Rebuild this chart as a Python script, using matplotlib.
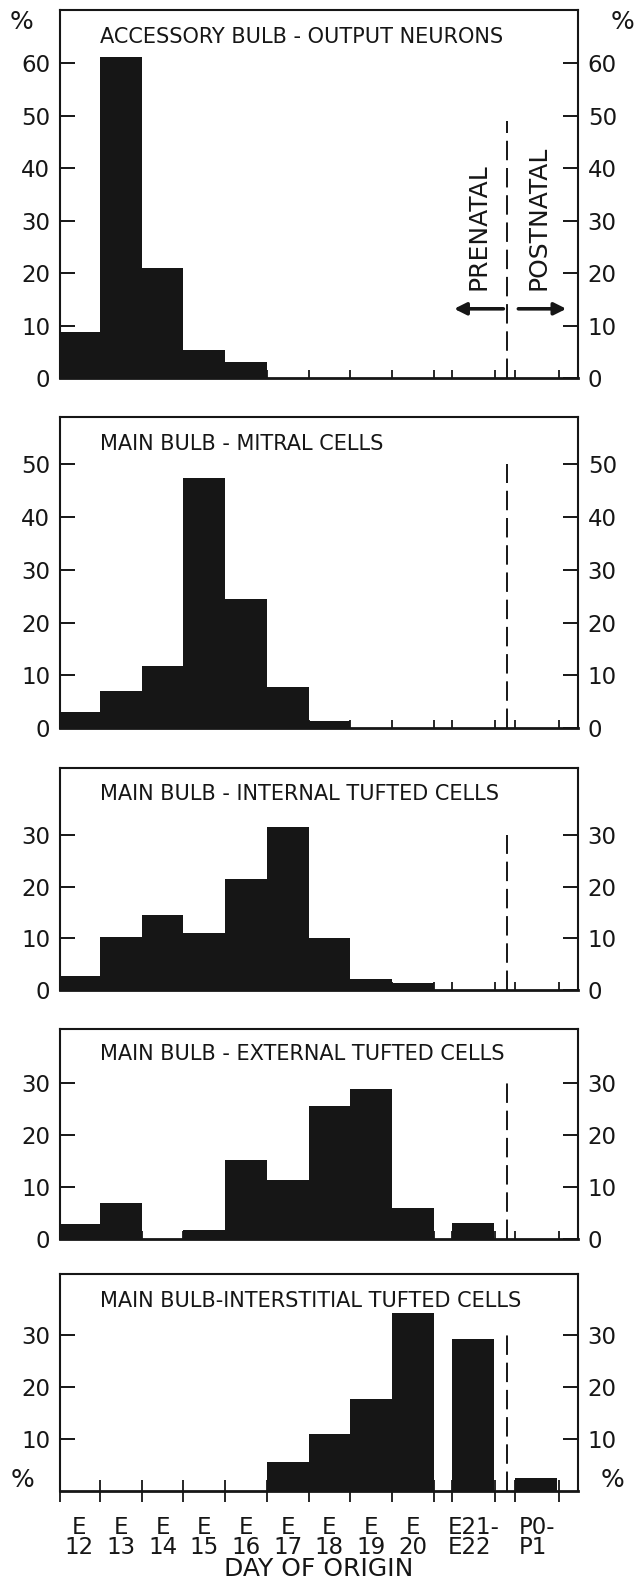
import matplotlib
matplotlib.use("Agg")
import matplotlib.pyplot as plt
import numpy as np

# day-of-origin categories (bins)
day_labels = ["E\n12", "E\n13", "E\n14", "E\n15", "E\n16", "E\n17", "E\n18",
              "E\n19", "E\n20", "E21-\nE22", "P0-\nP1"]

titles = ["ACCESSORY BULB - OUTPUT NEURONS",
          "MAIN BULB - MITRAL CELLS",
          "MAIN BULB - INTERNAL TUFTED CELLS",
          "MAIN BULB - EXTERNAL TUFTED CELLS",
          "MAIN BULB-INTERSTITIAL TUFTED CELLS"]

# percent of labelled cells per day of origin
output_neurons = [8.8, 61.2, 20.9, 5.4, 3.0, 0, 0, 0, 0, 0, 0]
mitral = [3.1, 7.1, 11.7, 47.4, 24.4, 7.8, 1.4, 0, 0, 0, 0]
internal_tufted = [2.7, 10.2, 14.4, 11.1, 21.4, 31.5, 10.0, 2.2, 1.4, 0, 0]
external_tufted = [2.8, 7.0, 0, 1.7, 15.2, 11.3, 25.5, 28.8, 6.0, 3.1, 0]
interstitial_tufted = [0, 0, 0, 0, 0, 5.6, 10.9, 17.6, 34.2, 29.2, 2.5]

series = [output_neurons, mitral, internal_tufted, external_tufted, interstitial_tufted]

# layout
W, H = 635, 1586
fig = plt.figure(figsize=(W / 100, H / 100), dpi=100)
panel_px = [(10, 378), (417, 728), (768, 990), (1029, 1239), (1274, 1491)]
ylims = [70.2, 59, 42.9, 40.4, 41.7]
yticks = [range(0, 61, 10), range(0, 51, 10), range(0, 31, 10), range(0, 31, 10), range(10, 31, 10)]
dash_top = [49, 50, 30, 30, 30]
title_off = [27, 27, 26, 25, 27]

x_left = np.arange(len(day_labels), dtype=float)
x_left[9] = 9.45
x_left[10] = 10.95
edges = [1, 2, 3, 4, 5, 6, 7, 8, 9, 9.45, 10.47, 10.95, 12]
dash_x = 10.75
ink = "#161616"

axes = []
for i, (top, bot) in enumerate(panel_px):
    ax = fig.add_axes([60 / W, 1 - bot / H, 518 / W, (bot - top) / H])
    axes.append(ax)
    ax.bar(x_left, series[i], width=1.0, align="edge", color=ink, edgecolor="none", zorder=2)
    ax.set_xlim(0.04, 12.46)
    ax.set_ylim(0, ylims[i])
    ax.set_axisbelow(True)
    for s in ax.spines.values():
        s.set_linewidth(1.5)
        s.set_color(ink)
    ax.spines["bottom"].set_linewidth(2.0)

    ax.set_yticks(list(yticks[i]))
    ax.tick_params(axis="y", which="major", left=True, right=True, labelleft=True, labelright=True,
                   direction="in", length=11, width=1.4, labelsize=16.5, pad=7, colors=ink)

    ax.plot([dash_x, dash_x], [0, dash_top[i]], color=ink, lw=1.4, dashes=(10, 4), zorder=3)

    ax.annotate(titles[i], xy=(0.077, 1), xycoords="axes fraction",
                xytext=(0, -title_off[i] * 0.72), textcoords="offset points",
                ha="left", va="center", fontsize=15, color=ink)

    if i < 4:
        ax.set_xticks(edges)
        ax.set_xticklabels([])
        ax.tick_params(axis="x", direction="in", length=6, width=1.3, colors=ink)
    else:
        ax.set_xticks([0.04] + edges)
        ax.set_xticklabels([])
        ax.tick_params(axis="x", which="major", direction="inout", length=16, width=1.3, colors=ink)
        centers = list(np.arange(9) + 0.5) + [9.96, 11.47]
        ax.set_xticks(centers, minor=True)
        ax.set_xticklabels(day_labels, minor=True, fontsize=16.5, linespacing=0.85)
        ax.tick_params(axis="x", which="minor", length=0, pad=18, colors=ink)
        for lab in ax.get_xticklabels(minor=True)[9:]:
            lab.set_multialignment("left")

# x axis title placed under the bottom panel
fig.text((60 + 259) / W, 1 - 1569 / H, "DAY OF ORIGIN", ha="center", va="center", fontsize=18, color=ink)

# percent signs
axes[0].text(-0.075, 0.967, "%", transform=axes[0].transAxes, ha="center", va="center", fontsize=18, color=ink)
axes[0].text(1.086, 0.967, "%", transform=axes[0].transAxes, ha="center", va="center", fontsize=18, color=ink)
axes[4].text(-0.073, 0.05, "%", transform=axes[4].transAxes, ha="center", va="center", fontsize=18, color=ink)
axes[4].text(1.067, 0.05, "%", transform=axes[4].transAxes, ha="center", va="center", fontsize=18, color=ink)

# prenatal / postnatal annotation
ax = axes[0]
ax.text(10.08, 28.9, "PRENATAL", rotation=90, ha="center", va="center", fontsize=18, color=ink)
ax.text(11.52, 30.6, "POSTNATAL", rotation=90, ha="center", va="center", fontsize=18, color=ink)
ax.annotate("", xy=(9.49, 13.2), xytext=(10.67, 13.2),
            arrowprops=dict(arrowstyle="-|>", lw=2.6, color=ink, mutation_scale=18, shrinkA=0, shrinkB=0))
ax.annotate("", xy=(12.18, 13.2), xytext=(11.03, 13.2),
            arrowprops=dict(arrowstyle="-|>", lw=2.6, color=ink, mutation_scale=18, shrinkA=0, shrinkB=0))

fig.savefig("out.png", dpi=100)
